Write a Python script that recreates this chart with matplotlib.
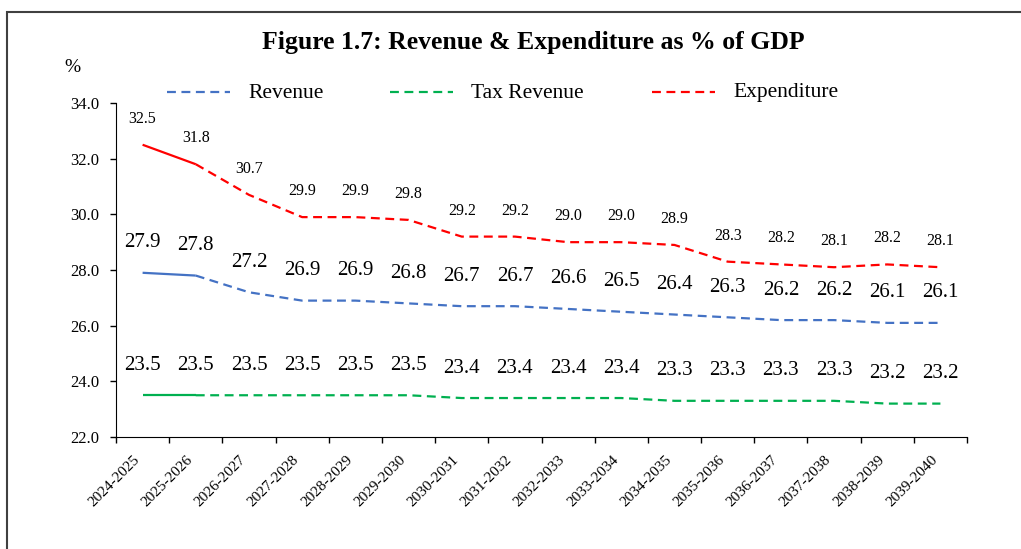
import matplotlib
matplotlib.use("Agg")
import matplotlib.pyplot as plt
from matplotlib.patches import Rectangle
from matplotlib.transforms import ScaledTranslation

plt.rcParams['font.family'] = ['Liberation Serif', 'DejaVu Serif']

years = ["2024-2025", "2025-2026", "2026-2027", "2027-2028", "2028-2029", "2029-2030",
         "2030-2031", "2031-2032", "2032-2033", "2033-2034", "2034-2035", "2035-2036",
         "2036-2037", "2037-2038", "2038-2039", "2039-2040"]
revenue = [27.9, 27.8, 27.2, 26.9, 26.9, 26.8, 26.7, 26.7, 26.6, 26.5, 26.4, 26.3, 26.2, 26.2, 26.1, 26.1]
tax_revenue = [23.5, 23.5, 23.5, 23.5, 23.5, 23.5, 23.4, 23.4, 23.4, 23.4, 23.3, 23.3, 23.3, 23.3, 23.2, 23.2]
expenditure = [32.5, 31.8, 30.7, 29.9, 29.9, 29.8, 29.2, 29.2, 29.0, 29.0, 28.9, 28.3, 28.2, 28.1, 28.2, 28.1]

fig = plt.figure(figsize=(10.21, 5.49), dpi=100)
ax = fig.add_axes([116/1021, 1-437/549, (967-116)/1021, (437-103)/549])

x = list(range(len(years)))
series = [
    ("Revenue", revenue, "#4472C4", 15, 30),
    ("Tax Revenue", tax_revenue, "#00B050", 15, 30),
    ("Expenditure", expenditure, "#FF0000", 11.5, 26),
]

# first segment solid (actual), the rest dashed (projection)
for name, vals, col, fs, off in series:
    ax.plot(x[:2], vals[:2], color=col, lw=1.6, solid_capstyle='butt')
    ax.plot(x[1:], vals[1:], color=col, lw=1.6, dashes=(4, 2.5))
    for xi, v in zip(x, vals):
        ax.annotate(f"{v:.1f}", (xi, v), xytext=(0, off*0.72), textcoords='offset points',
                    ha='center', va='center', fontsize=fs)

ax.set_xlim(-0.5, len(years) - 0.5)
ax.set_ylim(22, 34)
ax.set_yticks([22, 24, 26, 28, 30, 32, 34])
ax.set_yticklabels([f"{t:.1f}" for t in [22, 24, 26, 28, 30, 32, 34]], fontsize=12)
ax.set_xticks([i - 0.5 for i in range(len(years) + 1)])
ax.set_xticklabels([])
ax.set_xticks(x, minor=True)
ax.set_xticklabels(years, minor=True, rotation=45, ha='right', va='center',
                   rotation_mode='anchor', fontsize=11)
ax.tick_params(axis='x', which='minor', length=0, pad=15)
ax.tick_params(axis='both', which='major', length=4, width=1, direction='out')
ax.tick_params(axis='y', pad=8)
shift = ScaledTranslation(-5/100, 0, fig.dpi_scale_trans)
for lab in ax.get_xticklabels(minor=True):
    lab.set_transform(lab.get_transform() + shift)
ax.spines['top'].set_visible(False)
ax.spines['right'].set_visible(False)

# legend, drawn by hand as in the reference
legend_items = [("Revenue", "#4472C4", 167), ("Tax Revenue", "#00B050", 390), ("Expenditure", "#FF0000", 652)]
for name, col, px in legend_items:
    fig.add_artist(plt.Line2D([px/1021, (px+63)/1021], [1-92/549, 1-92/549], color=col,
                              lw=1.6, dashes=(4, 2.5)))
    fig.text((px+81)/1021, 1-93/549, name, fontsize=15.5, va='center', ha='left')

fig.text(533/1021, 1-42/549, "Figure 1.7: Revenue & Expenditure as % of GDP",
         fontsize=18.5, fontweight='bold', ha='center', va='center')
fig.text(72/1021, 1-68/549, "%", fontsize=14, ha='center', va='center')

fig.add_artist(Rectangle((7/1021, -0.2), 1.5, 1.2 - 12/549, transform=fig.transFigure,
                         fill=False, edgecolor='#404040', lw=1.5))

fig.savefig("out.png", dpi=100)
